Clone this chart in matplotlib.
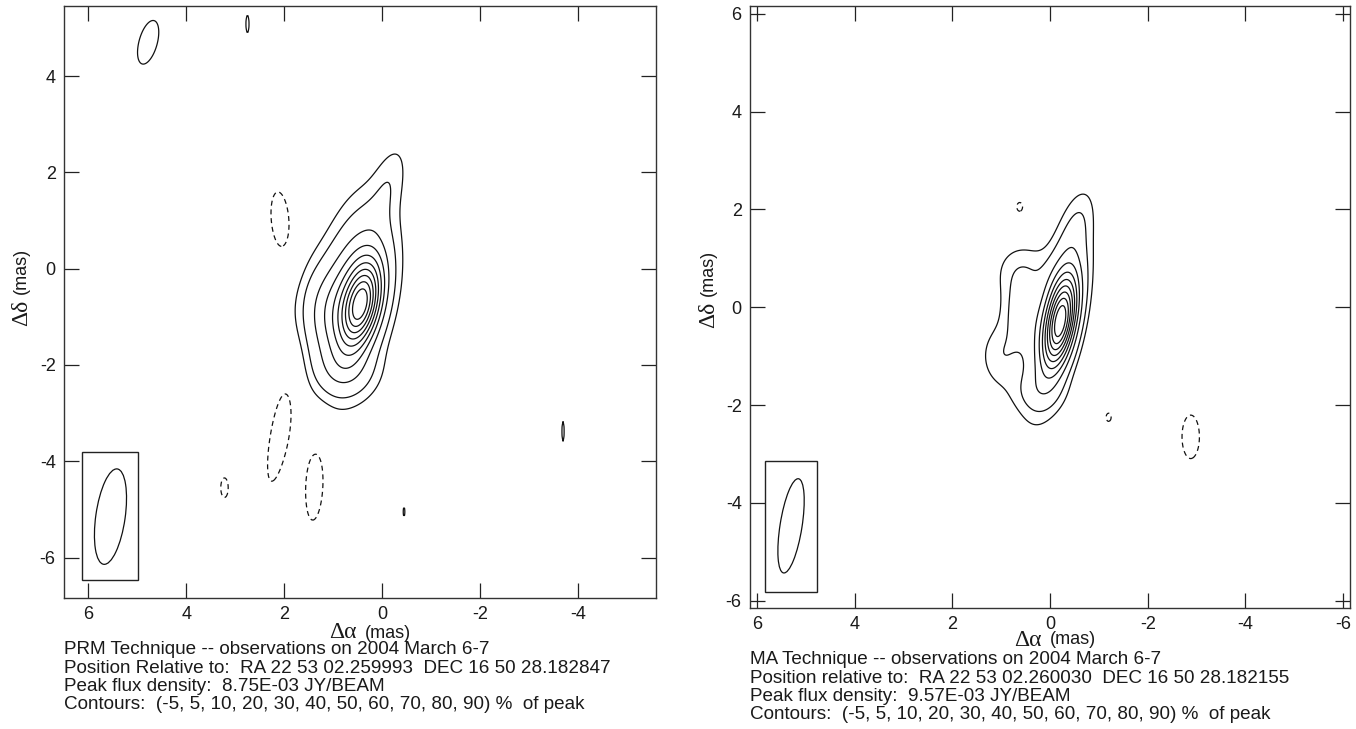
import numpy as np
import matplotlib
matplotlib.use("Agg")
import matplotlib.pyplot as plt
from matplotlib.patches import Ellipse, Rectangle

plt.rcParams['font.family'] = ['Liberation Sans', 'DejaVu Sans']

# ---------------- data ----------------
# contour levels (% of peak)
levels_pct = [-5, 5, 10, 20, 30, 40, 50, 60, 70, 80, 90]

# Gaussian components read from the maps:
# amplitude (fraction of peak), x0, y0 (mas), sx, sy (mas), pa (deg)
prm_amp = [0.70, 0.35, 0.07, 0.15, 0.11, -0.07, -0.07, -0.07, -0.062, 0.075, 0.058, 0.058, 0.056]
prm_x0  = [0.42, 0.55, -0.15, 1.20, 0.75, 2.08, 2.08, 1.38, 3.22, 4.78, 2.75, -3.70, -0.45]
prm_y0  = [-0.75, -0.50, 1.80, -0.90, -2.15, 1.00, -3.40, -4.50, -4.55, 4.70, 5.08, -3.38, -5.05]
prm_sx  = [0.25, 0.45, 0.22, 0.40, 0.45, 0.24, 0.25, 0.23, 0.13, 0.22, 0.07, 0.05, 0.05]
prm_sy  = [0.60, 1.15, 0.60, 0.70, 0.40, 0.78, 1.35, 0.95, 0.35, 0.55, 0.40, 0.45, 0.25]
prm_pa  = [12, 10, 15, 0, 0, -5, 10, 3, 0, 15, 0, 0, 0]

ma_amp = [0.75, 0.30, 0.06, 0.13, 0.09, 0.08, 0.065, -0.058, -0.058, -0.072]
ma_x0  = [-0.22, -0.15, -0.55, 0.62, 1.00, 0.55, 0.30, 0.62, -1.20, -2.88]
ma_y0  = [-0.30, -0.20, 1.70, -0.10, -1.00, 0.75, -1.75, 2.05, -2.25, -2.65]
ma_sx  = [0.20, 0.30, 0.20, 0.25, 0.30, 0.40, 0.40, 0.13, 0.11, 0.22]
ma_sy  = [0.62, 1.15, 0.50, 0.50, 0.45, 0.40, 0.30, 0.20, 0.18, 0.55]
ma_pa  = [10, 12, 15, 0, 0, 0, 0, 0, 0, 0]

# restoring beams: centre x, y, minor, major (mas), pa (deg); box x0, x1, y0, y1
prm_beam = (5.55, -5.15, 0.60, 2.00, 8)
prm_box = (6.13, 4.98, -6.47, -3.80)
ma_beam = (5.30, -4.47, 0.45, 1.95, 9)
ma_box = (5.84, 4.77, -5.83, -3.15)

prm_xlim = (6.50, -5.60)
prm_ylim = (-6.84, 5.46)
ma_xlim = (6.14, -6.14)
ma_ylim = (-6.15, 6.16)

prm_xticks = [6, 4, 2, 0, -2, -4]
prm_yticks = [-6, -4, -2, 0, 2, 4]
ma_xticks = [6, 4, 2, 0, -2, -4, -6]
ma_yticks = [-6, -4, -2, 0, 2, 4, 6]

prm_text = ["PRM Technique -- observations on 2004 March 6-7",
            "Position Relative to:  RA 22 53 02.259993  DEC 16 50 28.182847",
            "Peak flux density:  8.75E-03 JY/BEAM",
            "Contours:  (-5, 5, 10, 20, 30, 40, 50, 60, 70, 80, 90) %  of peak"]
ma_text = ["MA Technique -- observations on 2004 March 6-7",
           "Position relative to:  RA 22 53 02.260030  DEC 16 50 28.182155",
           "Peak flux density:  9.57E-03 JY/BEAM",
           "Contours:  (-5, 5, 10, 20, 30, 40, 50, 60, 70, 80, 90) %  of peak"]

W, H = 1356, 729
fig = plt.figure(figsize=(W / 100, H / 100), dpi=100)


def field(amp, x0, y0, sx, sy, pa, X, Y):
    Z = np.zeros_like(X)
    for a, xc, yc, s1, s2, p in zip(amp, x0, y0, sx, sy, pa):
        t = np.deg2rad(p)
        dx, dy = X - xc, Y - yc
        u = dx * np.cos(t) + dy * np.sin(t)
        v = -dx * np.sin(t) + dy * np.cos(t)
        Z += a * np.exp(-0.5 * ((u / s1) ** 2 + (v / s2) ** 2))
    return Z / Z.max()


def panel(rect, comps, beam, box, xlim, ylim, xticks, yticks):
    ax = fig.add_axes(rect)
    xs = np.linspace(-7, 7, 701)
    ys = np.linspace(-7, 7, 701)
    X, Y = np.meshgrid(xs, ys)
    Z = field(*comps, X, Y)
    lv = np.array(levels_pct) / 100.0
    ax.contour(X, Y, Z, levels=lv[lv < 0], colors='#111111', linewidths=0.9,
               linestyles=[(0, (4, 3))])
    ax.contour(X, Y, Z, levels=lv[lv > 0], colors='#111111', linewidths=0.9,
               linestyles='solid')
    bx0, bx1, by0, by1 = box
    ax.add_patch(Rectangle((bx1, by0), bx0 - bx1, by1 - by0, fill=False,
                           ec='#222222', lw=1.0, zorder=3))
    cx, cy, bmin, bmaj, bpa = beam
    ax.add_patch(Ellipse((cx, cy), bmin, bmaj, angle=bpa, fill=False,
                         ec='#111111', lw=0.9, zorder=3))
    ax.set_xlim(*xlim)
    ax.set_ylim(*ylim)
    ax.set_xticks(xticks)
    ax.set_yticks(yticks)
    ax.set_xticklabels([str(t) for t in xticks])
    ax.set_yticklabels([str(t) for t in yticks])
    ax.tick_params(direction='in', length=10.5, width=0.9, top=True, right=True,
                   labelsize=13, pad=6, colors='#222222', labelcolor='#1a1a1a')
    for s in ax.spines.values():
        s.set_linewidth(1.0)
        s.set_color('#333333')
    return ax


panel([64 / W, 1 - 598 / H, 592 / W, 592.3 / H],
      (prm_amp, prm_x0, prm_y0, prm_sx, prm_sy, prm_pa),
      prm_beam, prm_box, prm_xlim, prm_ylim, prm_xticks, prm_yticks)
panel([750 / W, 1 - 608 / H, 600 / W, 602 / H],
      (ma_amp, ma_x0, ma_y0, ma_sx, ma_sy, ma_pa),
      ma_beam, ma_box, ma_xlim, ma_ylim, ma_xticks, ma_yticks)

tc = '#1a1a1a'
serif = ['Liberation Serif', 'DejaVu Serif']
# x-axis labels
for (xa, ya) in [(357, 633), (1042, 640)]:
    fig.text(xa / W, 1 - ya / H, 'Δα', fontsize=17, family=serif, ha='right',
             va='center', color=tc)
    fig.text((xa + 8) / W, 1 - ya / H, '(mas)', fontsize=13, ha='left', va='center', color=tc)
# y-axis labels
for (xa, ya) in [(22, 300), (709, 302)]:
    fig.text(xa / W, 1 - ya / H, 'Δδ', fontsize=17, family=serif, ha='center', va='top',
             rotation=90, color=tc)
    fig.text((xa - 1) / W, 1 - (ya - 6) / H, '(mas)', fontsize=13, ha='center', va='bottom',
             rotation=90, color=tc)

# caption text
for lines, x0, y0 in [(prm_text, 64, 650), (ma_text, 750, 660)]:
    for i, s in enumerate(lines):
        fig.text(x0 / W, 1 - (y0 + i * 18.3) / H, s, fontsize=13.6, ha='left',
                 va='center', color=tc)

fig.savefig('out.png', dpi=100)
